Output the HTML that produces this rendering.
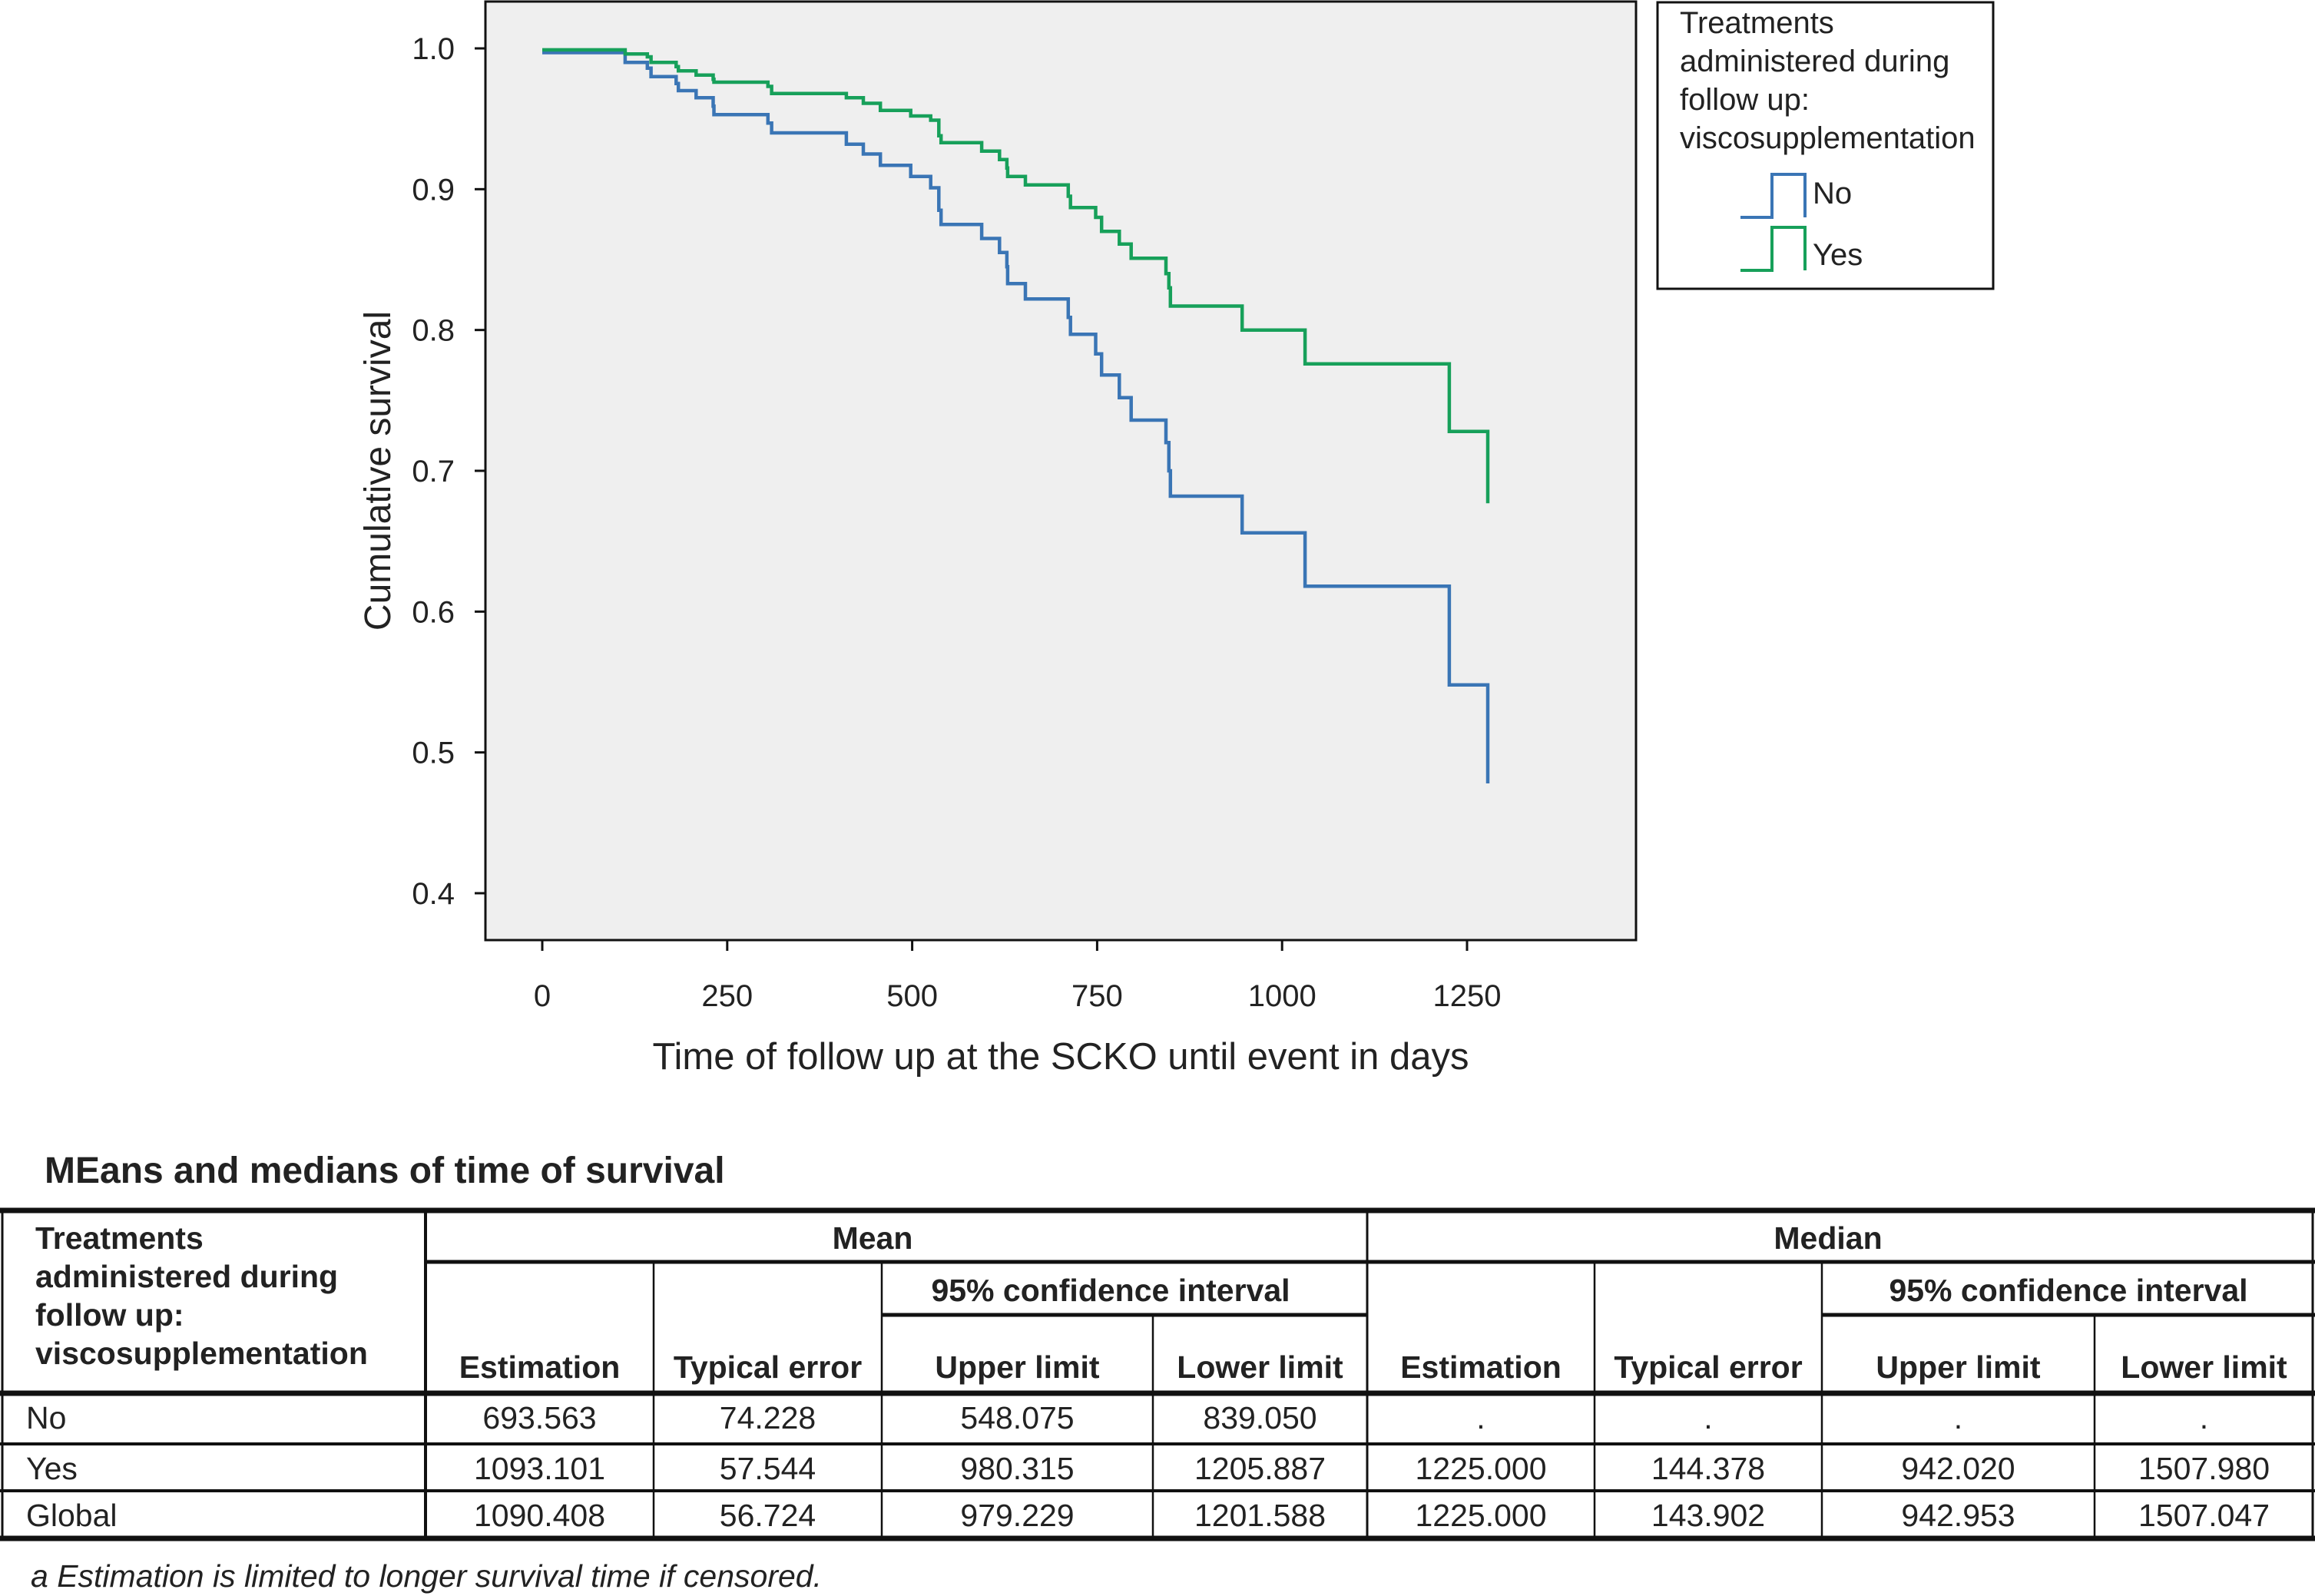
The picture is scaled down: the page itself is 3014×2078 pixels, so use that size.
<!DOCTYPE html>
<html><head><meta charset="utf-8"><style>
html,body{margin:0;padding:0;background:#fff;}
svg{display:block;font-family:"Liberation Sans",Arial,sans-serif;}
</style></head><body>
<svg id="root" width="3014" height="2078" viewBox="0 0 3014 2078" xmlns="http://www.w3.org/2000/svg">
<rect x="632" y="2" width="1498" height="1222" fill="#efefef" stroke="#111" stroke-width="3"/>
<g id="yaxis"></g>
<g id="xaxis"></g>
<g id="series"></g>
<text x="508" y="613" font-size="48" text-anchor="middle" transform="rotate(-90 508 613)" fill="#222">Cumulative survival</text>
<text x="1381" y="1392" font-size="49" text-anchor="middle" fill="#222">Time of follow up at the SCKO until event in days</text>
<g>
<rect x="2158" y="3" width="437" height="373" fill="#fff" stroke="#111" stroke-width="3"/>
<text font-size="40" fill="#222"><tspan x="2187" y="43">Treatments</tspan><tspan x="2187" y="93">administered during</tspan><tspan x="2187" y="143">follow up:</tspan><tspan x="2187" y="193">viscosupplementation</tspan></text>
<path d="M2266 283 H2307 V227 H2350 V283" fill="none" stroke="#3a75b5" stroke-width="4"/>
<text x="2360" y="265" font-size="40" fill="#222">No</text>
<path d="M2266 352 H2307 V296 H2350 V352" fill="none" stroke="#17a05a" stroke-width="4"/>
<text x="2360" y="345" font-size="40" fill="#222">Yes</text>
</g>
<text x="58" y="1540" font-size="48" font-weight="bold" fill="#222">MEans and medians of time of survival</text>
<g id="table"></g>
<text x="40" y="2066" font-size="41" font-style="italic" fill="#222">a Estimation is limited to longer survival time if censored.</text>
</svg>
<script>
const yTicks = [1.0, 0.9, 0.8, 0.7, 0.6, 0.5, 0.4];
const xTicks = [0, 250, 500, 750, 1000, 1250];
const noTimes = [112,142,147,181,184,208,231,232,305,310,411,434,457,498,525,536,539,594,618,628,629,653,711,714,748,756,780,796,843,847,849,946,1031,1226];
const noSurv = [.990,.986,.980,.975,.970,.965,.959,.953,.947,.940,.932,.925,.917,.909,.901,.885,.875,.865,.855,.845,.833,.822,.809,.797,.783,.768,.752,.736,.720,.700,.682,.656,.618,.548];
const noStart = 0.997;
const noEnd = [1278, 0.478];
const yesTimes = [112,142,147,181,184,208,231,232,305,310,411,434,457,498,525,536,539,594,618,628,629,653,711,714,748,756,780,796,843,847,849,946,1031,1226];
const yesSurv = [.996,.994,.990,.987,.984,.981,.978,.976,.973,.968,.965,.961,.956,.952,.949,.938,.933,.927,.921,.915,.909,.903,.895,.887,.880,.870,.861,.851,.840,.830,.817,.800,.776,.728];
const yesStart = 0.999;
const yesEnd = [1278, 0.677];

const NS='http://www.w3.org/2000/svg';
const X = d => 706 + d * (1204/1250);
const Y = s => 63 + (1 - s) * 1833.3;
function mk(tag, attrs, parent){const e=document.createElementNS(NS,tag);for(const k in attrs)e.setAttribute(k,attrs[k]);parent.appendChild(e);return e;}

const ya=document.getElementById('yaxis');
yTicks.forEach(v=>{
  const l=mk('line',{x1:618,x2:632,y1:Y(v),y2:Y(v),stroke:'#111','stroke-width':3},ya);
  
  
  const t=mk('text',{x:592,y:Y(v)+14,'font-size':40,'text-anchor':'end',fill:'#222'},ya);
  t.textContent=v.toFixed(1);
  
  
});
const xa=document.getElementById('xaxis');
xTicks.forEach(v=>{
  const l=mk('line',{x1:X(v),x2:X(v),y1:1224,y2:1238,stroke:'#111','stroke-width':3},xa);
  
  
  const t=mk('text',{x:X(v),y:1310,'font-size':40,'text-anchor':'middle',fill:'#222'},xa);
  t.textContent=String(v);
  
  
});
function stepPath(start,times,surv,end){
  let d='M'+X(0)+' '+Y(start);
  times.forEach((t,i)=>{d+=' H'+X(t).toFixed(1)+' V'+Y(surv[i]).toFixed(1);});
  d+=' H'+X(end[0]).toFixed(1)+' V'+Y(end[1]).toFixed(1);
  return d;
}
const sg=document.getElementById('series');
const pn=mk('path',{d:stepPath(noStart,noTimes,noSurv,noEnd),fill:'none',stroke:'#3a75b5','stroke-width':4.5},sg);


const py=mk('path',{d:stepPath(yesStart,yesTimes,yesSurv,yesEnd),fill:'none',stroke:'#17a05a','stroke-width':4.5},sg);



const tb=document.getElementById('table');
const cx=[0,554,851,1148,1501,1780,2076,2372,2727,3012];
const yTop=1576,yH1=1643,yCI=1712,yHb=1814,yR=[1814,1880,1941,2003];
function line(x1,y1,x2,y2,w){const l=mk('line',{x1,y1,x2,y2,stroke:'#111','stroke-width':w},tb);}
line(0,yTop,3014,yTop,7);line(0,yHb,3014,yHb,7);line(0,2003,3014,2003,7);
line(cx[1],yH1,3014,yH1,5);
line(cx[3],yCI,cx[5],yCI,5);line(cx[7],yCI,3014,yCI,5);
line(0,1880,3014,1880,4);line(0,1941,3014,1941,4);
line(3,yTop,3,2003,3);line(3011,yTop,3011,2003,3);
line(cx[1],yTop,cx[1],2003,4);line(cx[5],yTop,cx[5],2003,3);
[2,6].forEach(i=>line(cx[i],yH1,cx[i],2003,2.5));
[4,8].forEach(i=>line(cx[i],yCI,cx[i],2003,2.5));
[3,7].forEach(i=>line(cx[i],yH1,cx[i],2003,2.5));
function txt(s,x,y,opt){const t=mk('text',Object.assign({x,y,'font-size':41,fill:'#222'},opt||{}),tb);t.textContent=s;return t;}
const B={'font-weight':'bold'};
['Treatments','administered during','follow up:','viscosupplementation'].forEach((s,i)=>txt(s,46,1626+i*50,B));
txt('Mean',1136,1626,Object.assign({'text-anchor':'middle'},B));
txt('Median',2380,1626,Object.assign({'text-anchor':'middle'},B));
txt('95% confidence interval',1446,1694,Object.assign({'text-anchor':'middle'},B));
txt('95% confidence interval',2693,1694,Object.assign({'text-anchor':'middle'},B));
const heads=['Estimation','Typical error','Upper limit','Lower limit','Estimation','Typical error','Upper limit','Lower limit'];
heads.forEach((h,i)=>txt(h,(cx[i+1]+cx[i+2])/2,1794,Object.assign({'text-anchor':'middle'},B)));
const rows=[['No','693.563','74.228','548.075','839.050','.','.','.','.'],
['Yes','1093.101','57.544','980.315','1205.887','1225.000','144.378','942.020','1507.980'],
['Global','1090.408','56.724','979.229','1201.588','1225.000','143.902','942.953','1507.047']];
rows.forEach((r,ri)=>{const y=yR[ri]+46;r.forEach((c,ci)=>{if(ci===0)txt(c,34,y);else txt(c,(cx[ci]+cx[ci+1])/2,y,{'text-anchor':'middle'});});});
</script>
</body></html>
